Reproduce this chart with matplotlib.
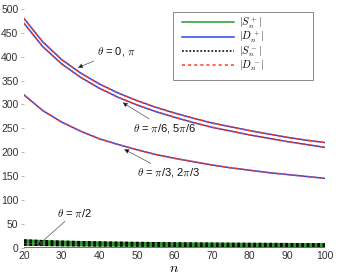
import matplotlib
matplotlib.use("Agg")
import matplotlib.pyplot as plt
import matplotlib.patches as mpatches
import numpy as np

plt.rcParams['font.family'] = ['Liberation Sans', 'DejaVu Sans']
plt.rcParams['mathtext.fontset'] = 'cm'

n = [20, 25, 30, 35, 40, 45, 50, 55, 60, 65, 70, 75, 80, 85, 90, 95, 100]
# |D| curves for theta = 0/pi, pi/6/5pi/6, pi/3/2pi/3, pi/2
D_theta0 = [480, 431, 394, 366, 343, 324, 308, 294, 282, 271, 261, 253, 245, 238, 231, 225, 220]
D_theta6 = [470, 421, 385, 357, 334, 315, 299, 285, 273, 262, 252, 244, 236, 229, 222, 216, 210]
D_theta3 = [320, 287, 263, 244, 228, 216, 205, 195, 187, 180, 173, 167, 162, 157, 153, 149, 145]
D_theta2 = [0] * 17
# |S| curves (small)
S_a = [15, 13.5, 12.3, 11.4, 10.7, 10.1, 9.6, 9.2, 8.8, 8.5, 8.2, 7.9, 7.7, 7.5, 7.3, 7.1, 6.9]
S_b = [11, 9.9, 9.0, 8.4, 7.9, 7.4, 7.0, 6.7, 6.4, 6.2, 6.0, 5.8, 5.6, 5.5, 5.3, 5.2, 5.1]
S_c = [6, 5.4, 4.9, 4.6, 4.3, 4.1, 3.9, 3.7, 3.5, 3.4, 3.3, 3.2, 3.1, 3.0, 2.9, 2.85, 2.8]

legend_labels = [r'$|S_n^+|$', r'$|D_n^+|$', r'$|S_n^-|$', r'$|D_n^-|$']

green = '#2a9a2a'
blue = '#2a46e8'
red = '#ff3b22'

W, H = 340, 277
fig = plt.figure(figsize=(3.4, 2.77), dpi=100)
ax = fig.add_axes([24/W, 1-248/H, (325-24)/W, (248-9)/H])

lw = 1.1
for S in (S_a, S_b, S_c):
    ax.plot(n, S, color=green, lw=1.6, solid_capstyle='butt')
    ax.plot(n, S, color='black', lw=1.6, ls=(0, (1.2, 1.2)))
for D in (D_theta0, D_theta6, D_theta3, D_theta2):
    ax.plot(n, D, color=blue, lw=lw)
    ax.plot(n, D, color=red, lw=lw, ls=(0, (2, 2)))

ax.set_xlim(20, 100)
ax.set_ylim(-1, 500)
ax.set_xticks(range(20, 101, 10))
ax.set_yticks(range(0, 501, 50))
for s in ax.spines.values():
    s.set_visible(False)
ax.tick_params(axis='x', length=0, labelsize=7.5, pad=2, colors='#333333')
ax.tick_params(axis='y', length=2.5, width=0.6, color='#aaaaaa', labelsize=7.5, pad=1.5, labelcolor='#333333')
ax.set_xlabel(r'$n$', fontsize=10, labelpad=0)

aprops = dict(arrowstyle='-|>', color='#555555', lw=0.5, mutation_scale=7,
              shrinkA=0, shrinkB=0)
def ann(txt, tip, txtpos):
    a = ax.annotate(txt, xy=tip, xytext=txtpos, fontsize=8, ha='left', va='center',
                    arrowprops=aprops, color='#111111')
    a.arrow_patch.set_facecolor('black')

ann(r'$\theta$ = 0, $\pi$', (34.3, 377), (39.3, 410))
ann(r'$\theta$ = $\pi$/6, 5$\pi$/6', (46.2, 304), (48.9, 250))
ann(r'$\theta$ = $\pi$/3, 2$\pi$/3', (46.6, 206), (50.0, 157))
ann(r'$\theta$ = $\pi$/2', (23.5, 3), (28.8, 73))

handles = [
    plt.Line2D([], [], color=green, lw=1.1),
    plt.Line2D([], [], color=blue, lw=1.1),
    plt.Line2D([], [], color='black', lw=1.1, ls=(0, (1.2, 1.2))),
    plt.Line2D([], [], color=red, lw=1.1, ls=(0, (2, 2))),
]
leg = fig.legend(handles, legend_labels, loc='upper left',
                 bbox_to_anchor=(182/W, 1-15/H), bbox_transform=fig.transFigure,
                 fontsize=7.5, frameon=False, handlelength=5.0,
                 labelspacing=-0.07, borderpad=0.0, handletextpad=0.5, borderaxespad=0)
fig.add_artist(mpatches.Rectangle((173/W, 1-80/H), (313-173)/W, (80-12)/H,
                                  transform=fig.transFigure, fill=False,
                                  edgecolor='#888888', lw=0.7))

fig.savefig('out.png', dpi=100)
